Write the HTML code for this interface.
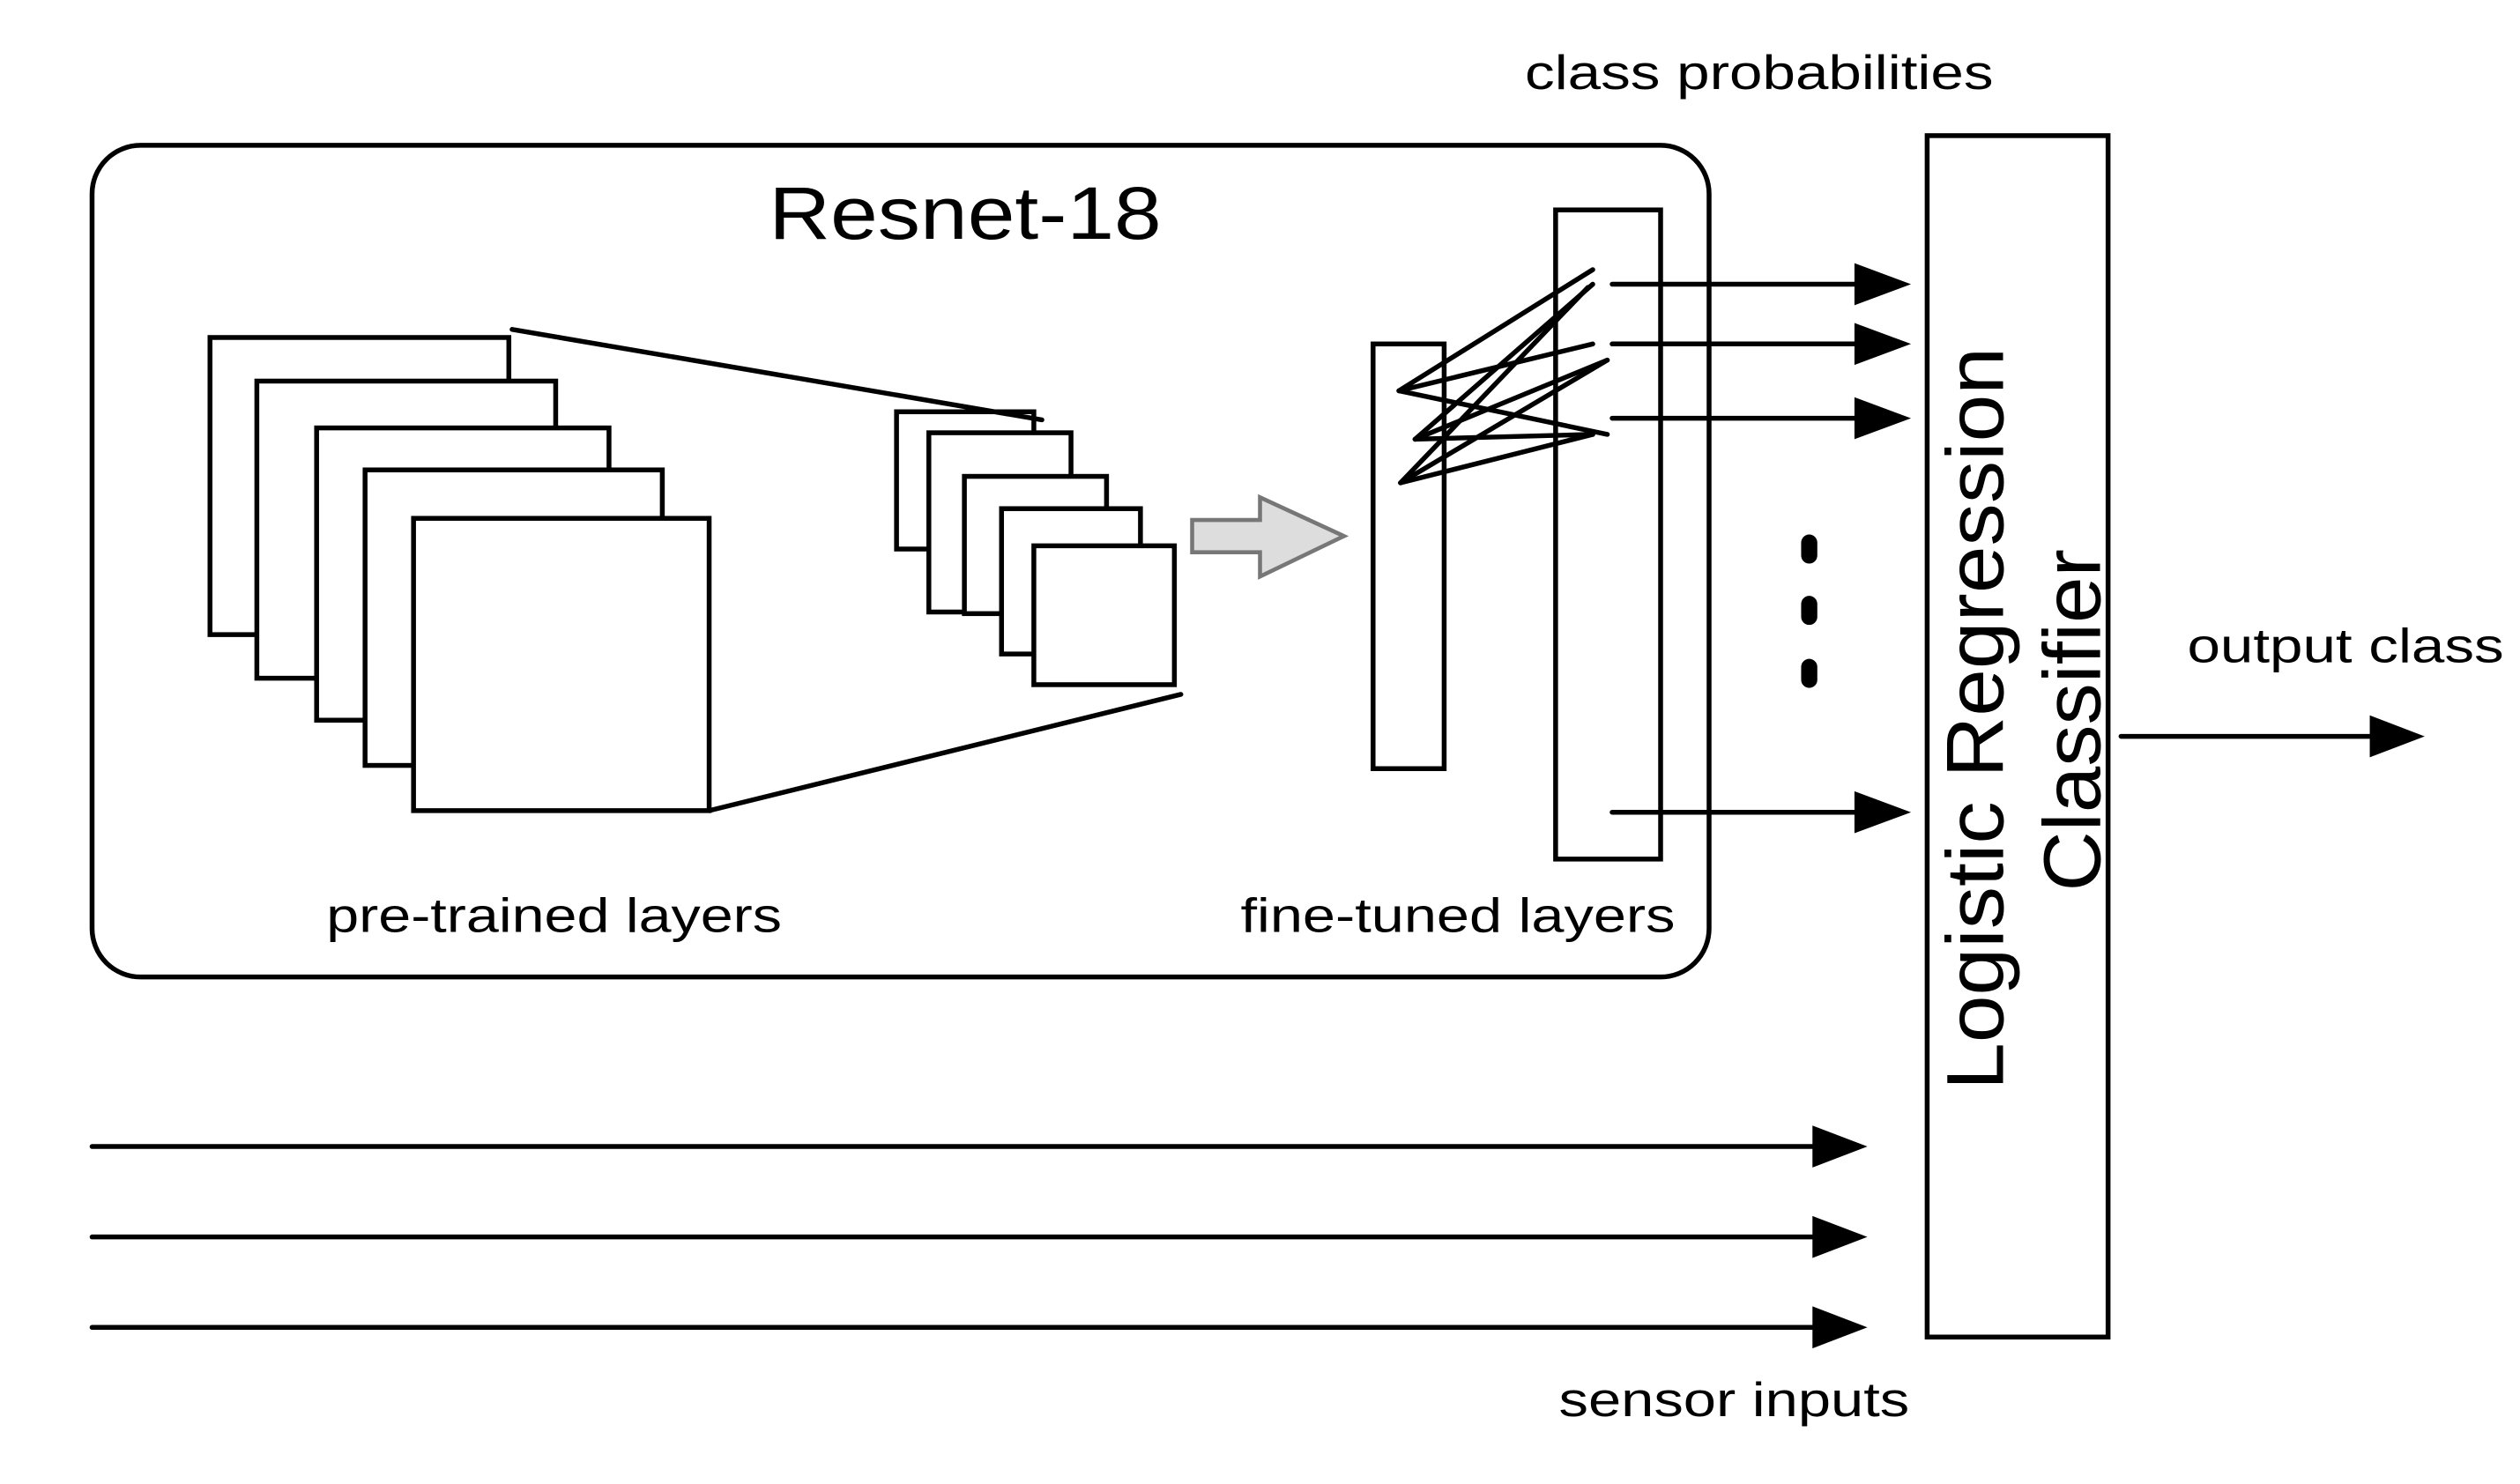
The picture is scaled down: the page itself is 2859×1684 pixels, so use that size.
<!DOCTYPE html>
<html><head><meta charset="utf-8"><style>html,body{margin:0;padding:0;background:#fff;}svg{display:block}</style></head>
<body>
<svg width="2859" height="1684" viewBox="0 0 1560 919" preserveAspectRatio="none" xmlns="http://www.w3.org/2000/svg" font-family="Liberation Sans, Arial, sans-serif">
<g fill="none" stroke="#000" stroke-width="3">
<rect x="57" y="90" width="1001" height="515" rx="30"/>
</g>
<g fill="#fff" stroke="#000" stroke-width="3">
<rect x="130" y="209" width="185" height="184"/>
<rect x="159" y="236" width="185" height="184"/>
<rect x="196" y="265" width="181" height="181"/>
<rect x="226" y="291" width="184" height="183"/>
<rect x="256" y="321" width="183" height="181"/>
<rect x="555" y="255" width="85" height="85"/>
<rect x="575" y="268" width="88" height="111"/>
<rect x="597" y="295" width="88" height="85"/>
<rect x="620" y="315" width="86" height="90"/>
<rect x="640" y="338" width="87" height="86"/>
<rect x="850" y="213" width="44" height="263"/>
<rect x="963" y="130" width="65" height="402"/>
<rect x="1193" y="84" width="112" height="744"/>
</g>
<g fill="#000">
<text x="944" y="55" font-size="30" textLength="290" lengthAdjust="spacingAndGlyphs">class probabilities</text>
<text x="476" y="148" font-size="46" textLength="243" lengthAdjust="spacingAndGlyphs">Resnet-18</text>
<text x="202" y="577" font-size="30" textLength="282" lengthAdjust="spacingAndGlyphs">pre-trained layers</text>
<text x="768" y="577" font-size="30" textLength="269" lengthAdjust="spacingAndGlyphs">fine-tuned layers</text>
<text x="1354" y="410" font-size="30" textLength="196" lengthAdjust="spacingAndGlyphs">output class</text>
<text x="965" y="877" font-size="30" textLength="217" lengthAdjust="spacingAndGlyphs">sensor inputs</text>
<text transform="translate(1240,675) rotate(-90)" font-size="50" textLength="460" lengthAdjust="spacingAndGlyphs">Logistic Regression</text>
<text transform="translate(1300,552) rotate(-90)" font-size="50" textLength="212" lengthAdjust="spacingAndGlyphs">Classifier</text>
</g>
<g stroke="#000" stroke-width="3" fill="none" stroke-linecap="round">
<line x1="317" y1="204" x2="645" y2="260"/>
<line x1="439" y1="502" x2="731" y2="430"/>
<line x1="866" y1="242" x2="986" y2="167"/>
<line x1="866" y1="242" x2="986" y2="213"/>
<line x1="866" y1="242" x2="995" y2="269"/>
<line x1="876" y1="272" x2="986" y2="176"/>
<line x1="876" y1="272" x2="995" y2="223"/>
<line x1="876" y1="272" x2="986" y2="269"/>
<line x1="867" y1="299" x2="983" y2="178"/>
<line x1="867" y1="299" x2="995" y2="223"/>
<line x1="867" y1="299" x2="986" y2="269"/>
<line x1="998" y1="176" x2="1150" y2="176"/>
<line x1="998" y1="213" x2="1150" y2="213"/>
<line x1="998" y1="259" x2="1150" y2="259"/>
<line x1="998" y1="503" x2="1150" y2="503"/>
<line x1="1313" y1="456" x2="1470" y2="456"/>
<line x1="57" y1="710" x2="1125" y2="710"/>
<line x1="57" y1="766" x2="1125" y2="766"/>
<line x1="57" y1="822" x2="1125" y2="822"/>
</g>
<g fill="#000">
<polygon points="1148,163 1183,176 1148,189"/>
<polygon points="1148,200 1183,213 1148,226"/>
<polygon points="1148,246 1183,259 1148,272"/>
<polygon points="1148,490 1183,503 1148,516"/>
<polygon points="1467,443 1501,456 1467,469"/>
<polygon points="1122,697 1156,710 1122,723"/>
<polygon points="1122,753 1156,766 1122,779"/>
<polygon points="1122,809 1156,822 1122,835"/>
<rect x="1115" y="331" width="10" height="18" rx="5"/>
<rect x="1115" y="369" width="10" height="18" rx="5"/>
<rect x="1115" y="408" width="10" height="18" rx="5"/>
</g>
<polygon points="738,322 780,322 780,308 832,332 780,357 780,342 738,342" fill="#ddd" stroke="#777" stroke-width="2.5"/>
</svg>
</body></html>
